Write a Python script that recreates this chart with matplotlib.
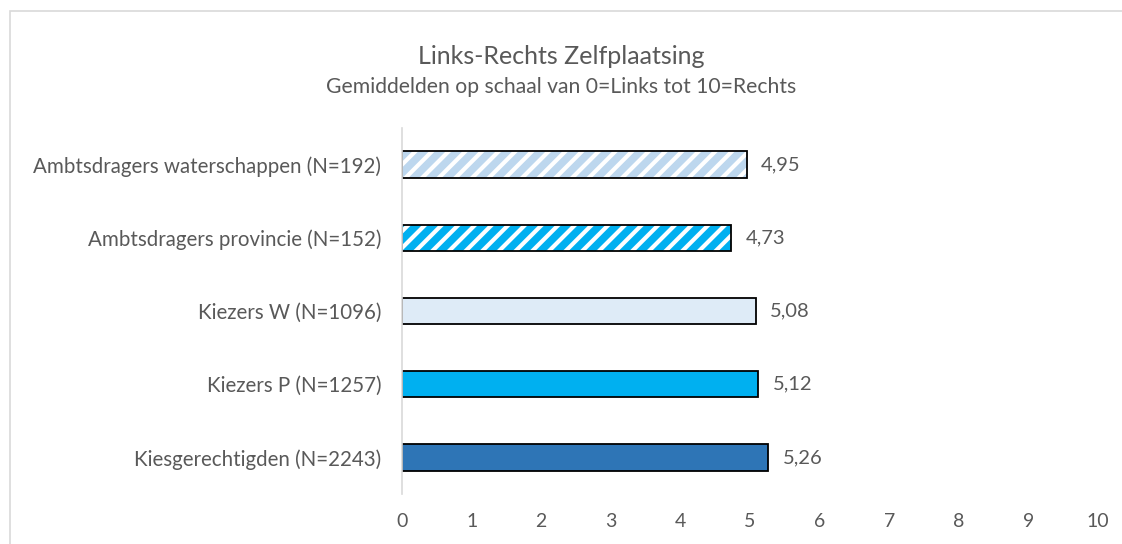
import matplotlib
matplotlib.use("Agg")
import matplotlib.pyplot as plt
from matplotlib.patches import Rectangle

categories = [
    "Kiesgerechtigden (N=2243)",
    "Kiezers P (N=1257)",
    "Kiezers W (N=1096)",
    "Ambtsdragers provincie (N=152)",
    "Ambtsdragers waterschappen (N=192)",
]
values = [5.26, 5.12, 5.08, 4.73, 4.95]
value_labels = ["5,26", "5,12", "5,08", "4,73", "4,95"]
colors = ["#2E75B6", "#00B0F0", "#DEEBF7", "#00B0F0", "#BDD7EE"]
hatched = [False, False, False, True, True]
xticks = list(range(0, 11))

plt.rcParams["font.family"] = ["Lato", "DejaVu Sans"]
plt.rcParams["hatch.linewidth"] = 3.0
text_col = "#595959"

W, H = 1122, 544
fig = plt.figure(figsize=(W / 100, H / 100), dpi=100)
# chart area border (gray)
fig.patches.append(Rectangle((10 / W, -0.1), 1.2, 1 - 11 / H + 0.1,
                             transform=fig.transFigure, fill=False,
                             edgecolor="#D9D9D9", linewidth=1.2))

ax = fig.add_axes([402 / W, 1 - 494 / H, (1098 - 402) / W, (494 - 128) / H])
ypos = list(range(len(categories)))
for y, v, c, h in zip(ypos, values, colors, hatched):
    if h:
        ax.barh(y, v, height=0.36, color=c, edgecolor="white",
                hatch="//", linewidth=0)
        ax.barh(y, v, height=0.36, fill=False, edgecolor="black",
                linewidth=1.3)
    else:
        ax.barh(y, v, height=0.36, color=c, edgecolor="black", linewidth=1.3)
for y, v, lab in zip(ypos, values, value_labels):
    ax.text(v + 0.21, y, lab, va="center", ha="left", fontsize=14.5,
            color=text_col)

ax.set_xlim(0, 10)
ax.set_ylim(-0.5, 4.5)
ax.set_xticks(xticks)
ax.set_xticklabels([str(t) for t in xticks], fontsize=14, color=text_col)
ax.set_yticks(ypos)
ax.set_yticklabels(categories, fontsize=14.8, color=text_col)
ax.tick_params(axis="both", length=0)
ax.tick_params(axis="x", pad=14)
ax.tick_params(axis="y", pad=15)
for s in ["top", "right", "bottom"]:
    ax.spines[s].set_visible(False)
ax.spines["left"].set_color("#D9D9D9")
ax.spines["left"].set_linewidth(1.2)

fig.text(0.5, 1 - 57 / H, "Links-Rechts Zelfplaatsing", ha="center",
         va="center", fontsize=18, color=text_col)
fig.text(0.5, 1 - 87 / H, "Gemiddelden op schaal van 0=Links tot 10=Rechts",
         ha="center", va="center", fontsize=15.2, color=text_col)

fig.savefig("out.png", dpi=100)
